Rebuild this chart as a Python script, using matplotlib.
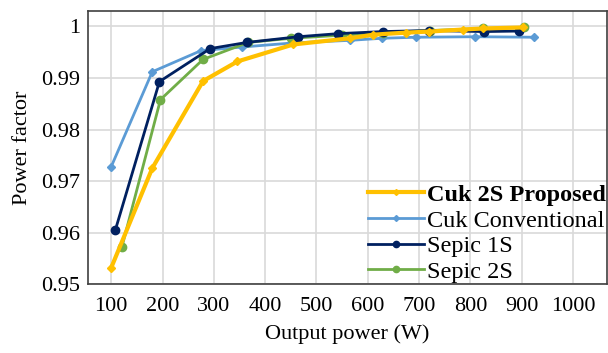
import matplotlib.pyplot as plt
import numpy as np

plt.rcParams['font.family'] = ['Liberation Serif', 'DejaVu Serif']

# Datos
cuk2s_x = [100, 180, 279, 346, 455, 566, 611, 675, 720, 786, 825, 903]
cuk2s_y = [0.9532, 0.9725, 0.9894, 0.9932, 0.9965, 0.9977, 0.9984, 0.9988, 0.9990, 0.9994, 0.9996, 0.9998]

cukconv_x = [100, 180, 275, 355, 455, 566, 628, 694, 810, 925]
cukconv_y = [0.9728, 0.9912, 0.9953, 0.9960, 0.9968, 0.9973, 0.9977, 0.9979, 0.9980, 0.9979]

sepic1s_x = [108, 194, 293, 365, 465, 543, 630, 720, 827, 895]
sepic1s_y = [0.9605, 0.9893, 0.9957, 0.9969, 0.9980, 0.9986, 0.9990, 0.9992, 0.9990, 0.9991]

sepic2s_x = [121, 196, 279, 367, 451, 550, 630, 722, 825, 905]
sepic2s_y = [0.9573, 0.9858, 0.9936, 0.9969, 0.9977, 0.9983, 0.9988, 0.9992, 0.9996, 0.9998]

fig = plt.figure(figsize=(6.08, 3.53), dpi=100)
ax = fig.add_axes([0.145, 0.195, 0.853, 0.774])

ax.plot(sepic2s_x, sepic2s_y, color='#70AD47', lw=2, marker='o', ms=6, label='Sepic 2S', zorder=3)
ax.plot(sepic1s_x, sepic1s_y, color='#002060', lw=2, marker='o', ms=6, label='Sepic 1S', zorder=4)
ax.plot(cukconv_x, cukconv_y, color='#5B9BD5', lw=2, marker='D', ms=4, label='Cuk Conventional', zorder=2)
ax.plot(cuk2s_x, cuk2s_y, color='#FFC000', lw=3, marker='D', ms=4, label='Cuk 2S Proposed', zorder=5)

ax.set_xlim(55, 1066)
ax.set_ylim(0.95, 1.003)
ax.set_xticks(np.arange(100, 1001, 100))
ax.set_yticks([0.95, 0.96, 0.97, 0.98, 0.99, 1.0])
ax.set_yticklabels(['0.95', '0.96', '0.97', '0.98', '0.99', '1'])
ax.tick_params(labelsize=16, length=0)
ax.tick_params(axis='x', pad=9)
ax.tick_params(axis='y', pad=6)
ax.grid(True, color='#D9D9D9', lw=1.2)
ax.set_axisbelow(True)
for s in ax.spines.values():
    s.set_color('#404040')
    s.set_linewidth(1.2)

ax.set_xlabel('Output power (W)', fontsize=16, labelpad=6)
ax.set_ylabel('Power factor', fontsize=16, labelpad=6)

handles, labels = ax.get_legend_handles_labels()
order = [3, 2, 1, 0]
leg = ax.legend([handles[i] for i in order], [labels[i] for i in order],
                loc='lower right', frameon=False, fontsize=17.5,
                handlelength=2.3, handletextpad=0.1, labelspacing=0.15,
                borderaxespad=0.0, borderpad=0.05, markerscale=0.75)
leg.get_texts()[0].set_fontweight('bold')

plt.savefig('out.png', dpi=100)
